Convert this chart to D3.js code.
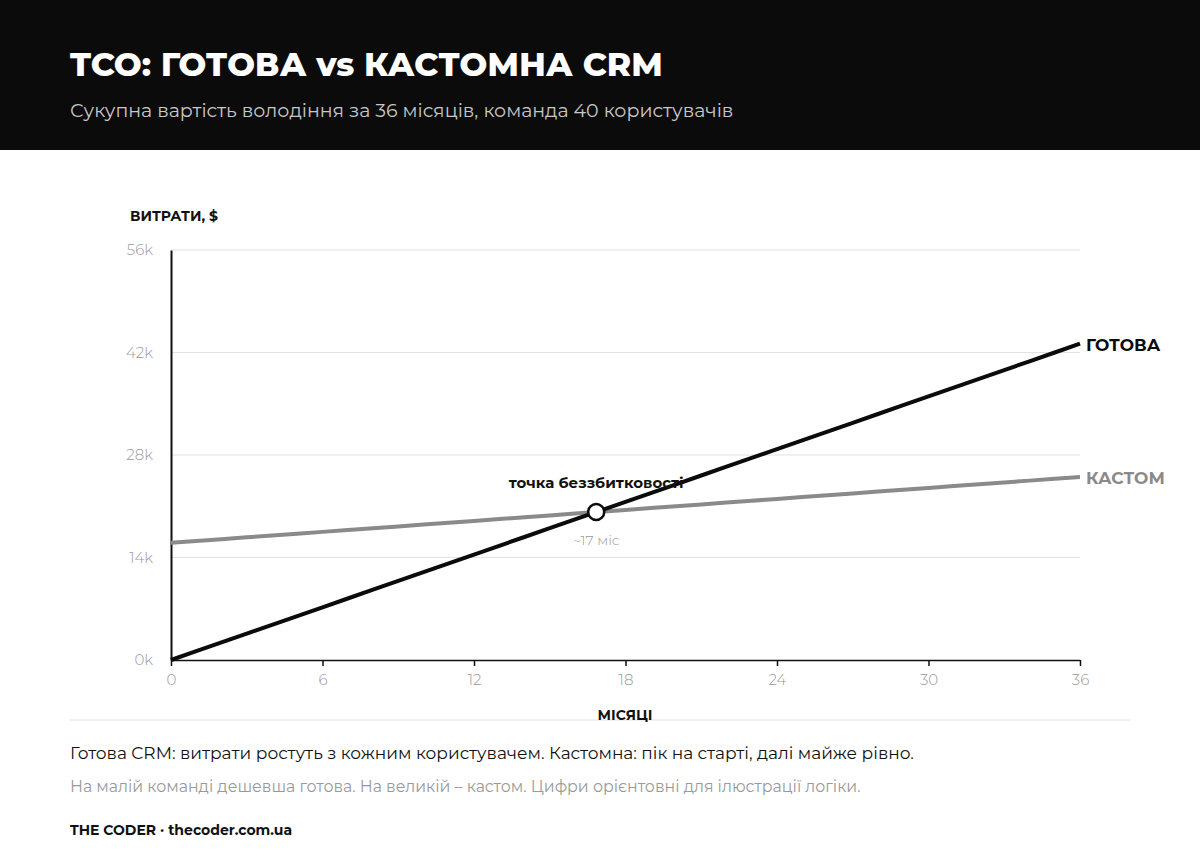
<!DOCTYPE html>
<html><head><meta charset="utf-8">
<script src="https://cdn.jsdelivr.net/npm/d3@7"></script>
<style>
html,body{margin:0;padding:0;background:#fff;}
svg{display:block;font-family:Montserrat,"Noto Sans","Open Sans",sans-serif;}
</style></head>
<body>
<svg id="c" width="1200" height="860"></svg>
<script>
const months = [0,1,2,3,4,5,6,7,8,9,10,11,12,13,14,15,16,17,18,19,20,21,22,23,24,25,26,27,28,29,30,31,32,33,34,35,36];
const readyCost = [0,1200,2400,3600,4800,6000,7200,8400,9600,10800,12000,13200,14400,15600,16800,18000,19200,20400,21600,22800,24000,25200,26400,27600,28800,30000,31200,32400,33600,34800,36000,37200,38400,39600,40800,42000,43200];
const customCost = [16000,16250,16500,16750,17000,17250,17500,17750,18000,18250,18500,18750,19000,19250,19500,19750,20000,20250,20500,20750,21000,21250,21500,21750,22000,22250,22500,22750,23000,23250,23500,23750,24000,24250,24500,24750,25000];
const xTicks = [0,6,12,18,24,30,36];
const yTicks = [0,14000,28000,42000,56000];
const breakEven = {month:16.84, cost:20210, label:"точка беззбитковості", sub:"~17 міс"};

const svg = d3.select("#c");
svg.append("rect").attr("x",0).attr("y",0).attr("width",1200).attr("height",150).attr("fill","#0b0b0b");
svg.append("text").attr("x",70).attr("y",76).attr("fill","#fff").attr("font-size",33).attr("font-weight",800)
  .text("TCO: ГОТОВА vs КАСТОМНА CRM");
svg.append("text").attr("x",70).attr("y",117).attr("fill","#c8c8c8").attr("font-size",19)
  .text("Сукупна вартість володіння за 36 місяців, команда 40 користувачів");

const x = d3.scaleLinear().domain([0,36]).range([171,1080]);
const y = d3.scaleLinear().domain([0,56000]).range([660,250]);

// grid
svg.append("g").selectAll("line").data(yTicks.filter(d=>d>0)).join("line")
  .attr("x1",x(0)).attr("x2",x(36)).attr("y1",d=>y(d)).attr("y2",d=>y(d))
  .attr("stroke","#e2e2e2").attr("stroke-width",1);

// y axis
const ya = svg.append("g").attr("transform",`translate(${x(0)},0)`)
  .call(d3.axisLeft(y).tickValues(yTicks).tickSize(0).tickPadding(18).tickFormat(d=>(d/1000)+"k"))
  .attr("font-family",null).attr("font-size",null);
ya.select(".domain").attr("stroke","#111").attr("stroke-width",2);
ya.selectAll("text").attr("fill","#999").attr("font-size",15).attr("font-weight",300);

// x axis
const xa = svg.append("g").attr("transform",`translate(0,${y(0)})`)
  .call(d3.axisBottom(x).tickValues(xTicks).tickSize(6).tickSizeOuter(0).tickPadding(8))
  .attr("font-family",null).attr("font-size",null);
xa.select(".domain").attr("stroke","#111").attr("stroke-width",1.5);
xa.selectAll(".tick line").attr("stroke","#111").attr("stroke-width",1.5);
xa.selectAll("text").attr("fill","#999").attr("font-size",15).attr("font-weight",300);

svg.append("text").attr("x",130).attr("y",221).attr("font-size",14).attr("font-weight",700).attr("fill","#111").text("ВИТРАТИ, $");
svg.append("line").attr("x1",70).attr("x2",1130).attr("y1",720).attr("y2",720).attr("stroke","#e2e2e2");
svg.append("text").attr("x",625).attr("y",720).attr("text-anchor","middle").attr("font-size",14).attr("font-weight",700).attr("fill","#111").text("МІСЯЦІ");

const line = d3.line().x((d,i)=>x(months[i])).y(d=>y(d));
svg.append("path").datum(customCost).attr("d",line).attr("fill","none").attr("stroke","#8a8a8a").attr("stroke-width",4);
svg.append("path").datum(readyCost).attr("d",line).attr("fill","none").attr("stroke","#0b0b0b").attr("stroke-width",4);

svg.append("text").attr("x",x(36)+6).attr("y",y(readyCost[36])+7).attr("font-size",17).attr("font-weight",700).attr("fill","#0b0b0b").text("ГОТОВА");
svg.append("text").attr("x",x(36)+6).attr("y",y(customCost[36])+7).attr("font-size",17).attr("font-weight",700).attr("fill","#8a8a8a").text("КАСТОМ");

svg.append("text").attr("x",x(breakEven.month)).attr("y",y(breakEven.cost)-24).attr("text-anchor","middle")
  .attr("font-size",15).attr("font-weight",700).attr("fill","#111").text(breakEven.label);
svg.append("circle").attr("cx",x(breakEven.month)).attr("cy",y(breakEven.cost)).attr("r",8)
  .attr("fill","#fff").attr("stroke","#0b0b0b").attr("stroke-width",2.5);
svg.append("text").attr("x",x(breakEven.month)).attr("y",y(breakEven.cost)+33).attr("text-anchor","middle")
  .attr("font-size",14).attr("font-weight",300).attr("fill","#999").text(breakEven.sub);

svg.append("text").attr("x",70).attr("y",759).attr("font-size",17).attr("fill","#111")
  .text("Готова CRM: витрати ростуть з кожним користувачем. Кастомна: пік на старті, далі майже рівно.");
svg.append("text").attr("x",70).attr("y",792).attr("font-size",15.8).attr("fill","#999")
  .text("На малій команді дешевша готова. На великій – кастом. Цифри орієнтовні для ілюстрації логіки.");
svg.append("text").attr("x",70).attr("y",835).attr("font-size",14).attr("font-weight",700).attr("fill","#111")
  .text("THE CODER · thecoder.com.ua");
</script>
</body></html>
